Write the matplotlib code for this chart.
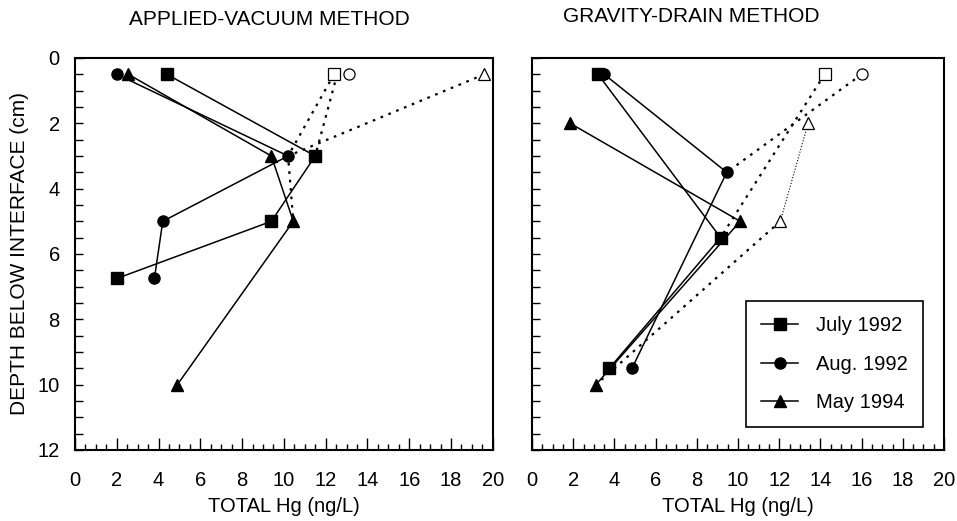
import matplotlib
matplotlib.use("Agg")
import matplotlib.pyplot as plt
from matplotlib.ticker import MultipleLocator

plt.rcParams['font.family'] = ['Liberation Sans', 'DejaVu Sans']

# ---- applied-vacuum method (left panel) ----
av_july_hg = [4.4, 11.5, 9.4, 2.0]
av_july_depth = [0.5, 3.0, 5.0, 6.75]
av_aug_hg = [2.0, 10.2, 4.2, 3.8]
av_aug_depth = [0.5, 3.0, 5.0, 6.75]
av_may_hg = [2.55, 9.4, 10.45, 4.9]
av_may_depth = [0.5, 3.0, 5.0, 10.0]
# open symbols (surface water) and dotted connections
av_open_hg = {'s': 12.4, 'o': 13.1, '^': 19.6}
av_dot_july = ([12.55, 11.5], [0.5, 3.0])
av_dot_aug = ([12.4, 10.2], [0.5, 3.0])
av_dot_may = ([19.6, 10.2, 10.45], [0.5, 3.0, 5.0])

# ---- gravity-drain method (right panel) ----
gd_july_hg = [3.2, 9.15, 3.75]
gd_july_depth = [0.5, 5.5, 9.5]
gd_aug_hg = [3.5, 9.45, 4.85]
gd_aug_depth = [0.5, 3.5, 9.5]
gd_may_hg = [1.85, 10.1, 3.1]
gd_may_depth = [2.0, 5.0, 10.0]
gd_open = {'s': (14.2, 0.5), 'o': (16.0, 0.5)}
gd_open_tri_hg = [13.4, 12.05]
gd_open_tri_depth = [2.0, 5.0]
gd_dot_july = ([14.2, 9.15], [0.5, 5.5])
gd_dot_aug = ([16.0, 9.45], [0.5, 3.5])
gd_dot_may = ([12.05, 3.1], [5.0, 10.0])

labels = ['July 1992', 'Aug. 1992', 'May 1994']

fig = plt.figure(figsize=(9.57, 5.21), dpi=100)
ax1 = fig.add_axes([0.0784, 0.1363, 0.4365, 0.7524])
ax2 = fig.add_axes([0.5560, 0.1363, 0.4305, 0.7524])

dots = (0, (1.2, 2.6))
msz = 8.0
fs = 14.5

def style(ax):
    ax.set_xlim(0, 20)
    ax.set_ylim(12, 0)
    ax.xaxis.set_major_locator(MultipleLocator(2))
    ax.xaxis.set_minor_locator(MultipleLocator(0.5))
    ax.yaxis.set_major_locator(MultipleLocator(2))
    ax.yaxis.set_minor_locator(MultipleLocator(0.5))
    ax.tick_params(which='both', direction='in', top=False, right=False,
                   labelsize=fs, width=1)
    ax.tick_params(axis='x', which='major', length=9, pad=15)
    ax.tick_params(axis='x', which='minor', length=4.5)
    ax.tick_params(axis='y', which='both', length=6, pad=11)
    for s in ax.spines.values():
        s.set_linewidth(1.5)
    ax.set_xlabel('TOTAL Hg (ng/L)', fontsize=fs, labelpad=5)

# left panel
ax1.plot(*av_dot_july, ls=dots, color='black', lw=1.6)
ax1.plot(*av_dot_aug, ls=dots, color='black', lw=1.6)
ax1.plot(*av_dot_may, ls=dots, color='black', lw=1.6)
ax1.plot(av_july_hg, av_july_depth, 'k-', marker='s', ms=msz, lw=1.1)
ax1.plot(av_aug_hg, av_aug_depth, 'k-', marker='o', ms=msz, lw=1.1)
ax1.plot(av_may_hg, av_may_depth, 'k-', marker='^', ms=msz + 0.7, lw=1.1)
for m, xv in av_open_hg.items():
    ax1.plot([xv], [0.5], ls='none', marker=m, ms=msz, mfc='white',
             mec='black', mew=0.9, clip_on=False)
style(ax1)
ax1.set_ylabel('DEPTH BELOW INTERFACE (cm)', fontsize=fs + 0.5, labelpad=6)

# right panel
ax2.plot(*gd_dot_july, ls=dots, color='black', lw=1.6)
ax2.plot(*gd_dot_aug, ls=dots, color='black', lw=1.6)
ax2.plot(*gd_dot_may, ls=dots, color='black', lw=1.6)
ax2.plot(gd_open_tri_hg, gd_open_tri_depth, ls=':', color='black', lw=0.8)
ax2.plot(gd_july_hg, gd_july_depth, 'k-', marker='s', ms=msz, lw=1.1, label=labels[0])
ax2.plot(gd_aug_hg, gd_aug_depth, 'k-', marker='o', ms=msz, lw=1.1, label=labels[1])
ax2.plot(gd_may_hg, gd_may_depth, 'k-', marker='^', ms=msz + 0.7, lw=1.1, label=labels[2])
for m, (xv, yv) in gd_open.items():
    ax2.plot([xv], [yv], ls='none', marker=m, ms=msz, mfc='white',
             mec='black', mew=0.9)
ax2.plot(gd_open_tri_hg, gd_open_tri_depth, ls='none', marker='^', ms=msz + 0.7,
         mfc='white', mec='black', mew=0.9)
style(ax2)
ax2.set_yticklabels([])

leg = ax2.legend(loc='lower right', bbox_to_anchor=(0.948, 0.059), fontsize=14.5,
                 handlelength=1.8, labelspacing=0.95, borderpad=0.75,
                 handletextpad=0.9, borderaxespad=0, fancybox=False,
                 framealpha=1, edgecolor='black')
leg.get_frame().set_linewidth(1.2)

fig.text(0.281, 0.9635, 'APPLIED-VACUUM METHOD', ha='center', va='center', fontsize=15)
fig.text(0.722, 0.968, 'GRAVITY-DRAIN METHOD', ha='center', va='center', fontsize=15)

fig.savefig('out.png', dpi=100)
